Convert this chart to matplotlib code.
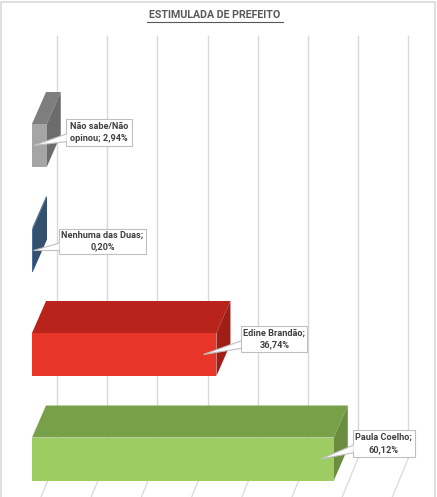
import matplotlib
matplotlib.use("Agg")
import matplotlib.pyplot as plt
from matplotlib.patches import Polygon, Rectangle

# ---- data ----
categories = ["Não sabe/Não\nopinou", "Nenhuma das Duas", "Edine Brandão", "Paula Coelho"]
values = [2.94, 0.20, 36.74, 60.12]
value_labels = ["2,94%", "0,20%", "36,74%", "60,12%"]
title = "ESTIMULADA DE PREFEITO"
grid_ticks = [0, 10, 20, 30, 40, 50, 60, 70]

# ---- styles ----
front_colors = ["#A5A5A5", "#4A6D99", "#E8352A", "#9DCC63"]
top_colors = ["#7E7E7E", "#3C5A80", "#B8231B", "#78A048"]
side_colors = ["#6C6C6C", "#34506F", "#A11E16", "#6A8D3F"]

W, H = 437, 497
fig = plt.figure(figsize=(W / 100, H / 100), dpi=100)
fig.patch.set_facecolor("white")
ax = fig.add_axes([0, 0, 1, 1])
ax.set_axis_off()

# pixel -> data mapping for layout
px_per_pct = 5.02
x0_px = 32
ax.set_xlim((0 - x0_px) / px_per_pct, (W - x0_px) / px_per_pct)
row_px = 104.5
c0_px = 145.5
ax.set_ylim((H - c0_px) / row_px, (0 - c0_px) / row_px)

def px_x(p):
    return p / px_per_pct

def px_y(p):
    return p / row_px

half_h = px_y(21.5)
dx = px_x(14)
dy = -px_y(32)

# back wall gridlines + floor lines
wall_dx = px_x(25)
wall_top = px_y(35 - c0_px)
wall_bot = px_y(458 - c0_px)
floor_dx = -px_x(25)
floor_dy = px_y(61)
for t in grid_ticks:
    xb = t + wall_dx
    ax.plot([xb, xb], [wall_top, wall_bot], color="#D9D9D9", lw=1.0, zorder=1,
            solid_capstyle="butt")
    ax.plot([xb, xb + floor_dx], [wall_bot, wall_bot + floor_dy], color="#D9D9D9",
            lw=0.9, zorder=1)

# bars (3D look)
for i, v in enumerate(values):
    top = i - half_h
    bot = i + half_h
    ax.add_patch(Polygon([(0, top), (v, top), (v + dx, top + dy), (dx, top + dy)],
                         closed=True, fc=top_colors[i], ec="none", zorder=3))
    ax.add_patch(Polygon([(v, top), (v + dx, top + dy), (v + dx, bot + dy), (v, bot)],
                         closed=True, fc=side_colors[i], ec="none", zorder=3))
    ax.add_patch(Rectangle((0, top), v, bot - top, fc=front_colors[i], ec="none", zorder=4))

# data labels with callouts
label_font = ["Roboto", "DejaVu Sans"]
box_left_off = [px_x(5), px_x(12), px_x(11), px_x(5)]
box_cy_off = [px_y(-13), px_y(-9), px_y(-15.5), px_y(-15.5)]
box_w = [px_x(66), px_x(87), px_x(66), px_x(62)]
box_h = [px_y(27), px_y(25), px_y(26), px_y(27)]
for i, v in enumerate(values):
    if i == 0:
        txt = categories[i] + "; " + value_labels[i]
    else:
        txt = categories[i] + ";\n" + value_labels[i]
    bl = v + dx + box_left_off[i]
    cy = i + box_cy_off[i]
    bw, bh = box_w[i], box_h[i]
    tip_x = max(v - px_x(13), px_x(1))
    tip_y = i
    # pointer wedge
    ax.add_patch(Polygon([(bl + px_x(2), cy + px_y(1)), (bl + px_x(2), cy + px_y(9)),
                          (tip_x, tip_y)], closed=True, fc="white", ec="#BFBFBF",
                         lw=0.8, zorder=5))
    ax.add_patch(Rectangle((bl, cy - bh / 2), bw, bh, fc="white", ec="#BFBFBF",
                           lw=0.8, zorder=6))
    ax.add_patch(Polygon([(bl + px_x(0.6), cy + px_y(1.5)), (bl + px_x(0.6), cy + px_y(8.5)),
                          (bl + px_x(4), cy + px_y(5))], closed=True, fc="white",
                         ec="none", zorder=7))
    ax.text(bl + bw / 2, cy, txt, ha="center", va="center", fontsize=6.6,
            fontweight="bold", color="#404040", family=label_font,
            linespacing=1.4, zorder=8)

# title
fig.text(215 / W, 1 - 15 / H, title, ha="center", va="center", fontsize=7.7,
         fontweight="bold", color="#595959", family=label_font)
fig.add_artist(plt.Line2D([147 / W, 283 / W], [1 - 22 / H, 1 - 22 / H],
                          color="#595959", lw=0.8))

# chart frame
fig.add_artist(Rectangle((0.5 / W, -0.01), 1 - 2.5 / W, 1 - 1.5 / H + 0.01,
                         transform=fig.transFigure, fill=False, ec="#D9D9D9", lw=1.2))

fig.savefig("out.png", dpi=100, facecolor="white")
